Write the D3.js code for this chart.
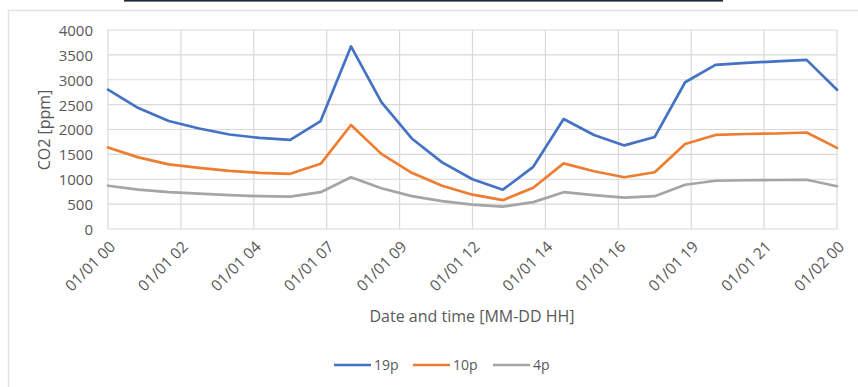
<!DOCTYPE html>
<html>
<head>
<meta charset="utf-8">
<script src="https://cdn.jsdelivr.net/npm/d3@7"></script>
<style>
  html, body { margin: 0; padding: 0; background: #fff; }
  svg { display: block; }
  text { font-family: "Open Sans", "Noto Sans", sans-serif; fill: #595959; }
</style>
</head>
<body>
<svg id="chart" width="858" height="387"></svg>
<script>
// ---- data ----
const hours = [0,1,2,3,4,5,6,7,8,9,10,11,12,13,14,15,16,17,18,19,20,21,22,23,24];
const series19p = [2800,2430,2170,2020,1900,1830,1790,2170,3670,2550,1820,1340,1000,790,1250,2210,1890,1680,1850,2950,3300,3340,3370,3400,2800];
const series10p = [1640,1440,1300,1230,1170,1130,1110,1310,2090,1510,1130,870,690,580,830,1320,1160,1040,1140,1710,1890,1910,1920,1940,1630];
const series4p  = [870,790,740,710,680,660,650,740,1040,820,660,560,490,450,540,740,680,630,660,890,970,980,985,990,860];
const seriesNames = ["19p", "10p", "4p"];
const seriesColors = ["#4472C4", "#ED7D31", "#A5A5A5"];
const xTickPositions = [0, 2.4, 4.8, 7.2, 9.6, 12, 14.4, 16.8, 19.2, 21.6, 24];
const xTickLabels = ["01/01 00","01/01 02","01/01 04","01/01 07","01/01 09","01/01 12","01/01 14","01/01 16","01/01 19","01/01 21","01/02 00"];
const yTicks = [0,500,1000,1500,2000,2500,3000,3500,4000];

const svg = d3.select("#chart");

// decorative top bar and chart border
svg.append("rect").attr("x", 124).attr("y", 0).attr("width", 599).attr("height", 1.6).attr("fill", "#1b2838");
svg.append("rect").attr("x", 8.5).attr("y", 10.5).attr("width", 860).attr("height", 390)
  .attr("fill", "none").attr("stroke", "#e3e3e3").attr("stroke-width", 1.5);

const pLeft = 108, pRight = 837, pTop = 30, pBottom = 229;
const x = d3.scaleLinear().domain([0, 24]).range([pLeft, pRight]);
const y = d3.scaleLinear().domain([0, 4000]).range([pBottom, pTop]);

// gridlines
const g = svg.append("g");
g.selectAll(".hgrid").data(yTicks).enter().append("line")
  .attr("x1", pLeft).attr("x2", pRight)
  .attr("y1", d => y(d)).attr("y2", d => y(d))
  .attr("stroke", "#d9d9d9").attr("stroke-width", 1.2);
g.selectAll(".vgrid").data(xTickPositions).enter().append("line")
  .attr("x1", d => x(d)).attr("x2", d => x(d))
  .attr("y1", pTop).attr("y2", pBottom)
  .attr("stroke", "#d9d9d9").attr("stroke-width", 1.2);

// y axis labels
const yAxis = d3.axisLeft(y).tickValues(yTicks).tickSize(0).tickPadding(0).tickFormat(d3.format("d"));
const ya = svg.append("g").attr("transform", `translate(${pLeft - 15},0)`).call(yAxis);
ya.select(".domain").remove();
ya.selectAll("text").attr("font-size", "15px").attr("fill", "#595959")
  .style("font-family", '"Open Sans", sans-serif').attr("dy", "0.36em");

// x axis labels
const xAxis = d3.axisBottom(x).tickValues(xTickPositions).tickSize(0)
  .tickFormat((d, i) => xTickLabels[i]);
const xa = svg.append("g").attr("transform", `translate(0,${pBottom})`).call(xAxis);
xa.select(".domain").remove();
xa.selectAll("text")
  .attr("font-size", "15.5px").attr("fill", "#595959")
  .style("font-family", '"Open Sans", sans-serif')
  .attr("text-anchor", "end")
  .attr("transform", "translate(0,11) rotate(-45)")
  .attr("y", 0).attr("dy", "0.7em");

// lines
const allSeries = [series19p, series10p, series4p];
const line = d3.line().x((d, i) => x(hours[i])).y(d => y(d));
svg.append("g").selectAll("path").data(allSeries).enter().append("path")
  .attr("d", d => line(d))
  .attr("fill", "none")
  .attr("stroke", (d, i) => seriesColors[i])
  .attr("stroke-width", 2.7)
  .attr("stroke-linejoin", "round")
  .attr("stroke-linecap", "round");

// axis titles
svg.append("text").attr("x", 472).attr("y", 322).attr("text-anchor", "middle")
  .attr("font-size", "16px").text("Date and time [MM-DD HH]");
svg.append("text").attr("transform", "translate(50,130) rotate(-90)").attr("text-anchor", "middle")
  .attr("font-size", "16px").text("CO2 [ppm]");

// legend
const legendX = [334, 413, 493];
const lg = svg.append("g");
seriesNames.forEach((name, i) => {
  lg.append("line").attr("x1", legendX[i]).attr("x2", legendX[i] + 37)
    .attr("y1", 365).attr("y2", 365)
    .attr("stroke", seriesColors[i]).attr("stroke-width", 2.7);
  lg.append("text").attr("x", legendX[i] + 40).attr("y", 370)
    .attr("font-size", "14px").text(name);
});
</script>
</body>
</html>
